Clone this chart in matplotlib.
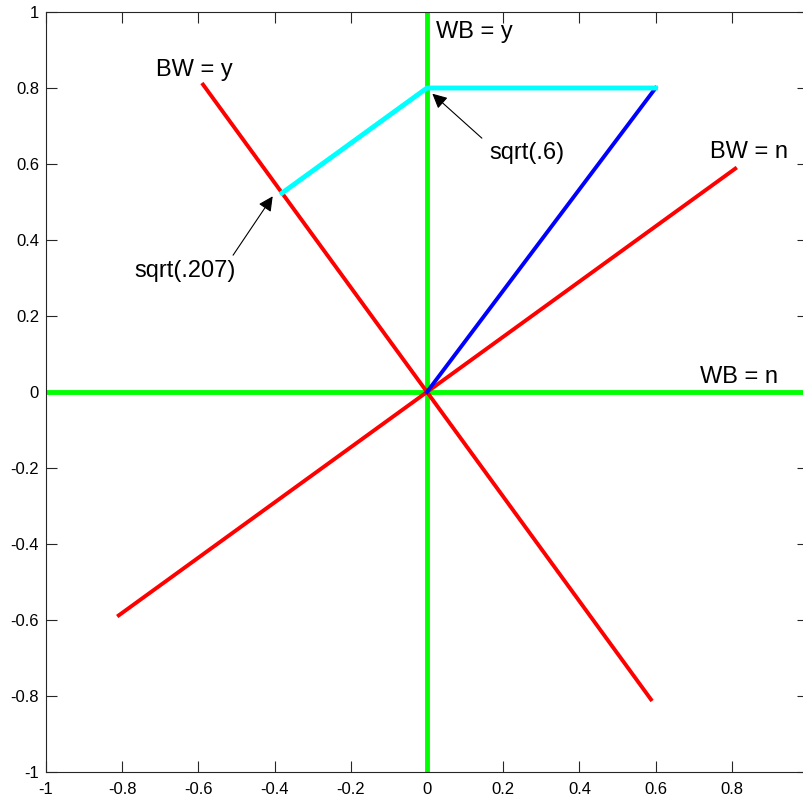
import numpy as np
import matplotlib
matplotlib.use('Agg')
import matplotlib.pyplot as plt
from matplotlib.ticker import FuncFormatter

plt.rcParams['font.family'] = ['Liberation Sans', 'DejaVu Sans']
plt.rcParams['axes.unicode_minus'] = False

# measurement axes (angles in degrees)
bw_angles = [126, 36]
# state vector and its projections
state = [0.6, 0.8]
proj_wb = [0.0, 0.8]
proj_bw = [-0.3805, 0.5236]

labels = {
    'WB = y': (0.024, 0.947),
    'BW = y': (-0.71, 0.847),
    'BW = n': (0.742, 0.632),
    'WB = n': (0.717, 0.04),
}
notes = [
    ('sqrt(.6)', (0.165, 0.629), (0.144, 0.668), (0.014, 0.785)),
    ('sqrt(.207)', (-0.768, 0.318), (-0.509, 0.36), (-0.405, 0.515)),
]
xticks = [-1, -0.8, -0.6, -0.4, -0.2, 0, 0.2, 0.4, 0.6, 0.8]
yticks = [-1, -0.8, -0.6, -0.4, -0.2, 0, 0.2, 0.4, 0.6, 0.8, 1]

fig = plt.figure(figsize=(8.04, 7.98), dpi=100)
ax = fig.add_axes([46 / 804, 26 / 798, 762 / 804, 760 / 798])

# WB axes
ax.plot([0, 0], [-1, 1], color=(0, 1, 0), lw=3.5, solid_capstyle='butt')
ax.plot([-1, 1], [0, 0], color=(0, 1, 0), lw=3.5, solid_capstyle='butt')

# BW axes
for a in bw_angles:
    c, s = np.cos(np.radians(a)), np.sin(np.radians(a))
    ax.plot([-c, c], [-s, s], color=(1, 0, 0), lw=2.8)

ax.plot([0, state[0]], [0, state[1]], color=(0, 0, 1), lw=2.8)
ax.plot([state[0], proj_wb[0], proj_bw[0]], [state[1], proj_wb[1], proj_bw[1]],
        color=(0, 1, 1), lw=3.5)

for txt, (x, y) in labels.items():
    ax.text(x, y, txt, fontsize=17, ha='left', va='center', color='black')

for txt, pos, tail, head in notes:
    ax.text(pos[0], pos[1], txt, fontsize=17, ha='left', va='center')
    ax.annotate('', xy=head, xytext=tail,
                arrowprops=dict(arrowstyle='-|>', color='black', lw=0.8,
                                mutation_scale=22, shrinkA=0, shrinkB=0))

ax.set_xlim(-1, 1)
ax.set_ylim(-1, 1)
ax.set_xticks(xticks)
ax.set_yticks(yticks)
fmt = FuncFormatter(lambda v, p: '%g' % (round(v, 1) + 0.0))
ax.xaxis.set_major_formatter(fmt)
ax.yaxis.set_major_formatter(fmt)
ax.tick_params(direction='in', length=8, width=0.8, top=True, right=True,
               labelsize=12, colors='#262626', labelcolor='black')
ax.tick_params(axis='x', pad=7)
ax.tick_params(axis='y', pad=5)
for sp in ax.spines.values():
    sp.set_color('#262626')
    sp.set_linewidth(0.8)

fig.savefig('out.png', dpi=100)
